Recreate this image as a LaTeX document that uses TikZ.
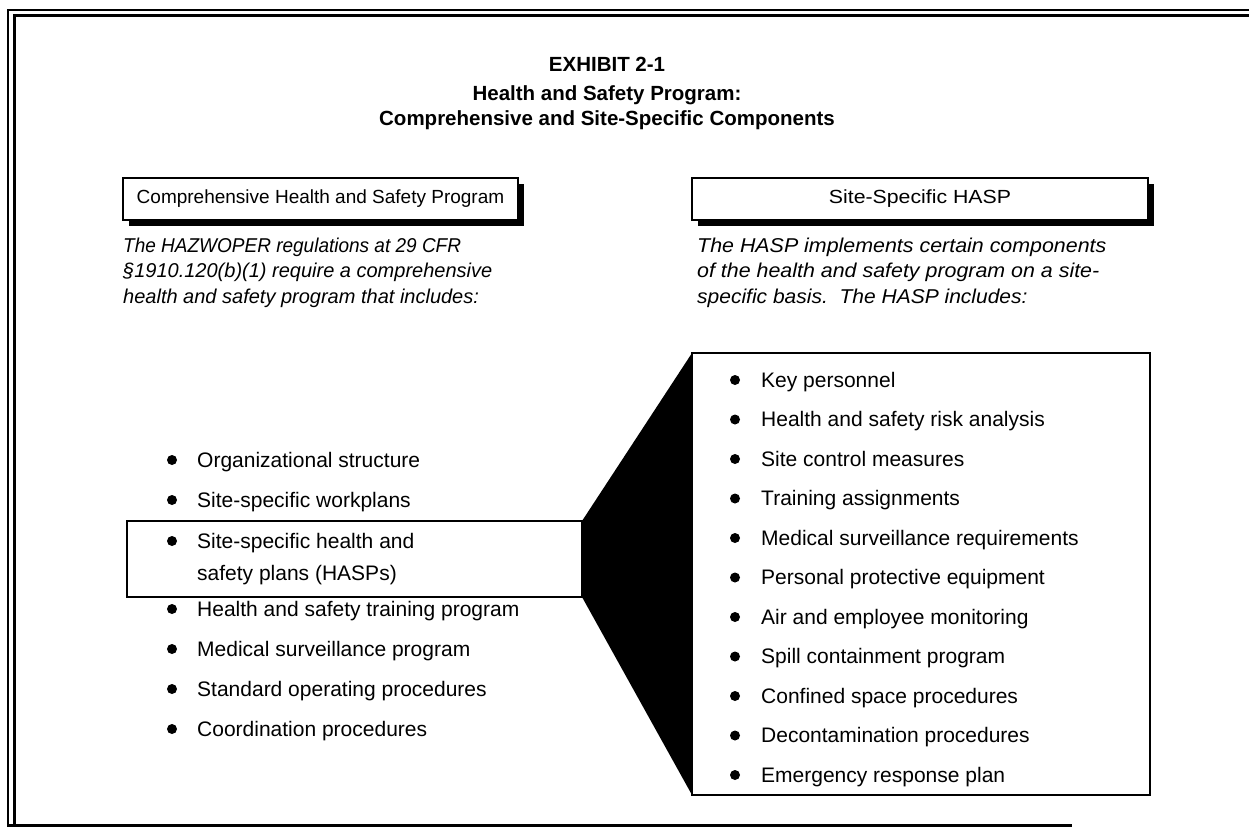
\documentclass[tikz,border=0pt]{standalone}
\usepackage{fontspec}
\setmainfont{Liberation Sans}
\usetikzlibrary{shadows}
\begin{document}
\begin{tikzpicture}[x=1pt,y=-1pt,
  hdr/.style={draw, line width=1.3pt, fill=white, inner sep=0pt, outer sep=0pt,
    drop shadow={shadow xshift=6pt, shadow yshift=-6pt, opacity=1, fill=black},
    font=\fontsize{19}{23}\selectfont},
  para/.style={anchor=base west, inner sep=0pt, font=\fontsize{20}{26}\selectfont\itshape},
  item/.style={anchor=base west, inner sep=0pt, font=\fontsize{21}{25}\selectfont},
  dot/.style={circle, fill=black, inner sep=0pt, minimum size=10pt},
  ttl/.style={anchor=base, inner sep=0pt, font=\fontsize{20.5}{25}\selectfont\bfseries},
  thinbox/.style={draw, line width=1.2pt, inner sep=0pt, outer sep=0pt}]
\useasboundingbox (0,0) rectangle (1249,827);
% outer frame
\draw[line width=2pt] (8.3,825.5) -- (8.3,10) -- (1249,10);
\draw[line width=3pt] (14,825.5) -- (14,15.5) -- (1249,15.5);
\draw[line width=2.5pt] (7,825.5) -- (1072,825.5);
% title
\node[ttl] (t1) at (607,71) {EXHIBIT 2-1};
\node[ttl] (t2) at (607,100) {Health and Safety Program:};
\node[ttl] (t3) at (607,125) {Comprehensive and Site-Specific Components};
% headers
\node[hdr, minimum width=395pt, minimum height=42pt] (lh) at (320.5,199) {Comprehensive Health and Safety Program};
\node[hdr, minimum width=456pt, minimum height=42pt] (rh) at (920,199) {\scalebox{1.12}[1]{Site-Specific HASP}};
% paragraphs
\node[para] (lp1) at (123,252) {\scalebox{0.95}[1]{The HAZWOPER regulations at 29 CFR}};
\node[para] (lp2) at (123,277.5) {§1910.120(b)(1) require a comprehensive};
\node[para] (lp3) at (123,303) {health and safety program that includes:};
\node[para] (rp1) at (697,252) {\scalebox{1.07}[1]{The HASP implements certain components}};
\node[para] (rp2) at (697,277.5) {\scalebox{1.07}[1]{of the health and safety program on a site-}};
\node[para] (rp3) at (697,303) {\scalebox{1.05}[1]{specific basis.\ \ The HASP includes:}};
% boxes and connector
\node[thinbox, minimum width=455pt, minimum height=76pt] (hl) at (354.5,559) {};
\node[thinbox, minimum width=458pt, minimum height=442pt] (rb) at (921,574) {};
\fill[black] (hl.north east) -- (rb.north west) -- (rb.south west) -- (hl.south east) -- cycle;
% left list
\foreach \i/\yy/\t in {1/467/Organizational structure, 2/507/Site-specific workplans, 3/548/Site-specific health and, 5/616/Health and safety training program, 6/656/Medical surveillance program, 7/696/Standard operating procedures, 8/736/Coordination procedures}{
  \node[dot] (ld\i) at (172,\yy-7) {};
  \node[item] (li\i) at (197,\yy) {\t};
}
\node[item] (li4) at (197,580) {safety plans (HASPs)};
% right list
\foreach \i/\yy/\t in {1/387/Key personnel, 2/426.5/Health and safety risk analysis, 3/466/Site control measures, 4/505.5/Training assignments, 5/545/Medical surveillance requirements, 6/584.5/Personal protective equipment, 7/624/Air and employee monitoring, 8/663.5/Spill containment program, 9/703/Confined space procedures, 10/742.5/Decontamination procedures, 11/782/Emergency response plan}{
  \node[dot] (rd\i) at (735,\yy-7) {};
  \node[item] (ri\i) at (761,\yy) {\t};
}
\end{tikzpicture}
\end{document}
